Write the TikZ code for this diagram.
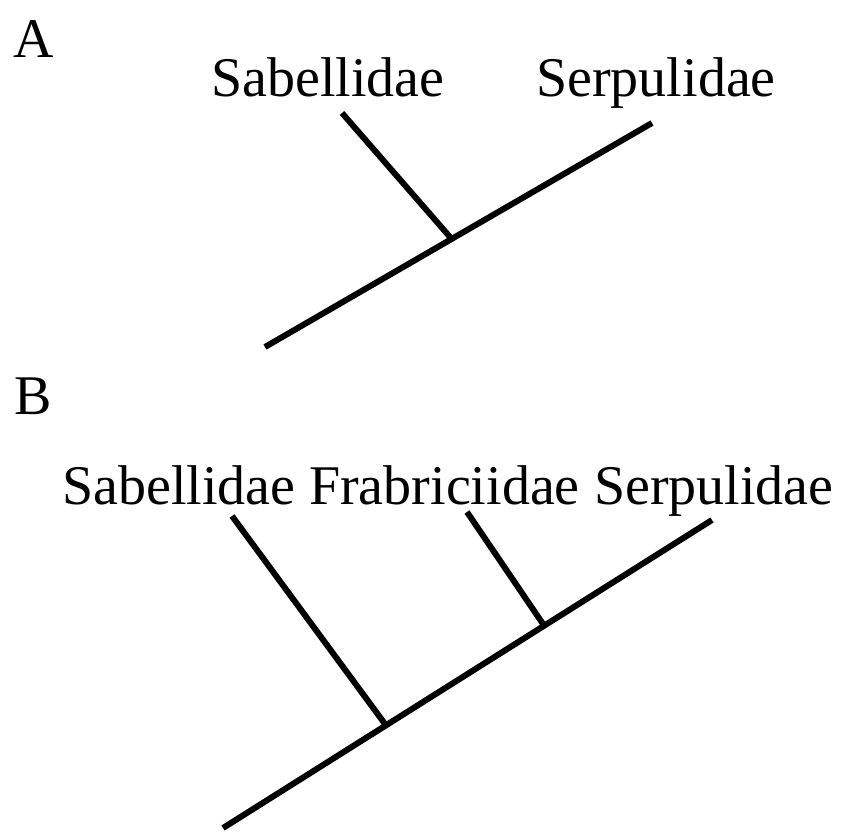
\documentclass[tikz,border=0pt]{standalone}
\usepackage{fontspec}
\setmainfont{Liberation Serif}
\begin{document}
\begin{tikzpicture}[x=1pt,y=-1pt,
  lbl/.style={anchor=base west,inner sep=0pt,font=\fontsize{56}{64}\selectfont},
  branch/.style={line width=6pt,line cap=butt}]
\useasboundingbox (0,0) rectangle (841,832);
% Panel A
\node[lbl] (labA) at (13,58) {A};
\node[lbl,anchor=base] (sabA) at (328,97) {Sabellidae};
\node[lbl,anchor=base] (serA) at (656,97) {Serpulidae};
\coordinate (rootA) at (265,347);
\coordinate (tipSerA) at (652,123);
\coordinate (jA) at (450,237);
\coordinate (tipSabA) at (342,113);
\draw[branch] (rootA) -- (tipSerA);
\draw[branch] (tipSabA) -- (jA);
% Panel B
\node[lbl] (labB) at (14,414) {B};
\node[lbl] (sabB) at (62,504) {Sabellidae};
\node[lbl] (fabB) at (309,504) {Frabriciidae};
\node[lbl] (serB) at (594,504) {Serpulidae};
\coordinate (rootB) at (223,828);
\coordinate (tipSerB) at (712,520);
\coordinate (j1B) at (385,724);
\coordinate (j2B) at (543,624);
\coordinate (tipSabB) at (232,516);
\coordinate (tipFabB) at (467,512);
\draw[branch] (rootB) -- (tipSerB);
\draw[branch] (tipSabB) -- (j1B);
\draw[branch] (tipFabB) -- (j2B);
\end{tikzpicture}
\end{document}
